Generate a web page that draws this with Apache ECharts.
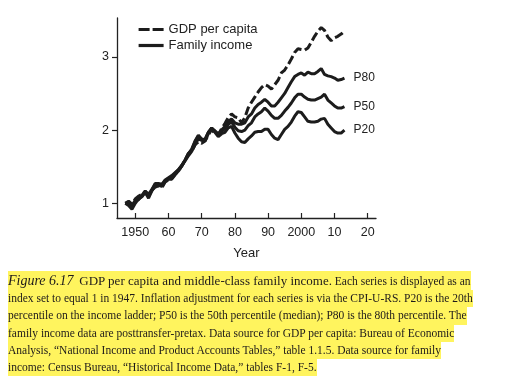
<!DOCTYPE html>
<html><head><meta charset="utf-8">
<script src="https://cdn.jsdelivr.net/npm/echarts@6/dist/echarts.min.js"></script>
<style>
html,body{margin:0;padding:0;background:#fff;}
#chart{position:absolute;left:0;top:0;width:507px;height:387px;}
#cap{position:absolute;left:8px;top:271px;font-family:"Liberation Serif","Times New Roman",serif;color:#1e1a1a;}
#cap div{background:#fff45e;width:fit-content;white-space:nowrap;height:17.3px;line-height:17.3px;font-size:11.5px;}
#cap div.first{height:19px;line-height:19px;}
</style></head><body>
<div id="chart"></div>
<div id="cap">
<div class="first"><i style="font-size:14px">Figure 6.17</i>&nbsp;&nbsp;<span style="font-size:13px">GDP per capita and middle-class family income.</span> Each series is displayed as an</div>
<div>index set to equal 1 in 1947. Inflation adjustment for each series is via the CPI-U-RS. P20 is the 20th</div>
<div>percentile on the income ladder; P50 is the 50th percentile (median); P80 is the 80th percentile. The</div>
<div>family income data are posttransfer-pretax. Data source for GDP per capita: Bureau of Economic</div>
<div>Analysis, “National Income and Product Accounts Tables,” table 1.1.5. Data source for family</div>
<div>income: Census Bureau, “Historical Income Data,” tables F-1, F-5.</div>
</div>
<script>
var years = [1947,1948,1949,1950,1951,1952,1953,1954,1955,1956,1957,1958,1959,1960,1961,1962,1963,1964,1965,1966,1967,1968,1969,1970,1971,1972,1973,1974,1975,1976,1977,1978,1979,1980,1981,1982,1983,1984,1985,1986,1987,1988,1989,1990,1991,1992,1993,1994,1995,1996,1997,1998,1999,2000,2001,2002,2003,2004,2005,2006,2007,2008,2009,2010,2011,2012,2013];
var gdpPerCapita = [1.00,1.03,0.99,1.06,1.10,1.12,1.16,1.12,1.18,1.22,1.24,1.21,1.29,1.32,1.34,1.40,1.44,1.51,1.59,1.68,1.71,1.80,1.84,1.82,1.85,1.93,2.01,
  1.95,1.93,2.02,2.09,2.17,2.22,2.18,2.17,2.10,2.17,2.30,2.38,2.45,2.52,2.58,2.62,2.60,2.56,2.62,2.68,2.78,2.82,2.89,2.97,3.06,3.11,3.10,3.09,3.12,3.20,3.28,3.35,3.40,3.36,3.27,3.22,3.26,3.28,3.31,3.35];
var p80 = [1.00,1.00,0.97,1.04,1.05,1.11,1.17,1.12,1.19,1.27,1.27,1.26,1.32,1.35,1.38,1.42,1.46,1.51,1.58,1.65,1.71,1.80,1.88,1.86,1.87,1.97,2.02,
  1.99,1.95,2.00,2.05,2.12,2.15,2.10,2.08,2.08,2.10,2.18,2.22,2.30,2.35,2.38,2.42,2.38,2.33,2.33,2.38,2.44,2.50,2.58,2.66,2.73,2.76,2.78,2.75,2.79,2.77,2.77,2.80,2.84,2.76,2.74,2.73,2.71,2.68,2.69,2.71];
var p50 = [1.00,0.99,0.95,1.03,1.06,1.10,1.16,1.10,1.18,1.26,1.26,1.24,1.31,1.34,1.36,1.41,1.46,1.52,1.59,1.67,1.73,1.84,1.92,1.88,1.87,1.97,2.03,
  1.98,1.93,1.98,2.02,2.08,2.11,2.04,1.99,1.98,2.00,2.06,2.10,2.18,2.22,2.25,2.30,2.26,2.20,2.16,2.16,2.20,2.26,2.31,2.37,2.44,2.49,2.49,2.45,2.42,2.41,2.41,2.43,2.45,2.49,2.41,2.37,2.33,2.30,2.30,2.32];
var p20 = [1.00,0.97,0.92,1.00,1.06,1.09,1.15,1.07,1.17,1.25,1.25,1.23,1.30,1.33,1.33,1.39,1.44,1.51,1.59,1.68,1.74,1.85,1.93,1.87,1.85,1.95,2.03,
  1.97,1.91,1.95,1.97,2.03,2.05,1.96,1.89,1.84,1.83,1.88,1.92,1.97,1.98,1.98,2.01,2.01,1.94,1.89,1.87,1.94,2.01,2.05,2.11,2.19,2.25,2.24,2.18,2.12,2.11,2.11,2.12,2.15,2.16,2.08,2.03,1.98,1.96,1.96,2.00];
var xTicks = [1950,1960,1970,1980,1990,2000,2010,2020];
var xTickLabels = ['1950','60','70','80','90','2000','10','20'];
var yTicks = [1,2,3];
var familyLabels = ['P80','P50','P20'];

function pairs(vals){ return years.map(function(y,i){ return [y, vals[i]]; }); }

var ink = '#1c1c1c';
var txt = '#222222';
var sans = '"Liberation Sans", Arial, Helvetica, sans-serif';

function famSeries(vals, label){
  return {
    name: 'Family income', type: 'line', data: pairs(vals), symbol: 'none', showSymbol: false,
    lineStyle: {width: 3, color: ink, type: 'solid'}, itemStyle: {color: ink},
    endLabel: {show: true, formatter: label, distance: 9, fontSize: 12, color: txt, fontFamily: sans},
    silent: true, z: 2
  };
}

var chart = echarts.init(document.getElementById('chart'), null, {renderer: 'canvas'});
chart.setOption({
  animation: false,
  backgroundColor: 'transparent',
  grid: {left: 117, right: 131, top: 18, bottom: 169},
  legend: {
    data: [
      {name: 'GDP per capita', lineStyle: {type: [11, 3], width: 3.2, color: ink}},
      {name: 'Family income', lineStyle: {type: 'solid', width: 3.2, color: ink}}
    ],
    orient: 'vertical', left: 132, top: 18, itemWidth: 25, itemHeight: 14, itemGap: 3,
    itemStyle: {opacity: 0, color: 'transparent', borderWidth: 0},
    lineStyle: {width: 3.2, color: ink},
    textStyle: {fontSize: 13, color: txt, fontFamily: sans}, selectedMode: false
  },
  xAxis: {
    type: 'value', min: 1944.5, max: 2022.5,
    axisLine: {show: true, onZero: false, lineStyle: {color: txt, width: 1.3}},
    axisTick: {show: true, inside: true, length: 5, customValues: xTicks, lineStyle: {color: txt, width: 1.2}},
    axisLabel: {customValues: xTicks, formatter: function(v){ var i = xTicks.indexOf(v); return i >= 0 ? xTickLabels[i] : ''; }, fontSize: 12.5, color: txt, margin: 8, fontFamily: sans},
    splitLine: {show: false},
    name: 'Year', nameLocation: 'middle', nameGap: 29, nameTextStyle: {fontSize: 13, color: txt, fontFamily: sans}
  },
  yAxis: {
    type: 'value', min: 0.8, max: 3.53,
    axisLine: {show: true, onZero: false, lineStyle: {color: txt, width: 1.3}},
    axisTick: {show: true, inside: false, length: 5, customValues: yTicks, lineStyle: {color: txt, width: 1.2}},
    axisLabel: {customValues: yTicks, fontSize: 12.5, color: txt, margin: 8, fontFamily: sans},
    splitLine: {show: false}
  },
  series: [
    famSeries(p80, familyLabels[0]),
    famSeries(p50, familyLabels[1]),
    famSeries(p20, familyLabels[2]),
    {
      name: 'GDP per capita', type: 'line', data: pairs(gdpPerCapita), symbol: 'none', showSymbol: false,
      lineStyle: {width: 3, color: ink, type: [9, 3.5]}, itemStyle: {color: ink}, silent: true, z: 3
    }
  ]
});
</script>
</body></html>
